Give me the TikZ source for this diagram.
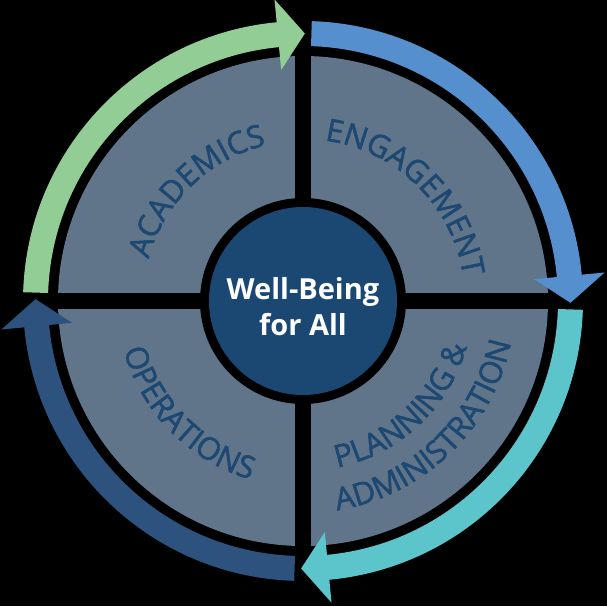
\documentclass[tikz,border=0pt]{standalone}
\usepackage{fontspec}
\setmainfont{Open Sans}
\newfontfamily\labelfont[FakeBold=1.6]{Open Sans}
\usetikzlibrary{decorations.text}
\definecolor{quadgray}{RGB}{96,116,138}
\definecolor{hubblue}{RGB}{27,72,115}
\definecolor{arrgreen}{RGB}{145,205,148}
\definecolor{arrblue}{RGB}{85,143,206}
\definecolor{arrteal}{RGB}{92,196,203}
\definecolor{arrdark}{RGB}{44,82,125}
\definecolor{labelblue}{RGB}{28,72,114}
\tikzset{
  curvedlabel/.style={decorate, decoration={text along path, text align=center, text color=labelblue, text={|\labelfont\fontsize{31}{31}\selectfont|#1}}}
}
\begin{document}
\begin{tikzpicture}[x=1pt,y=1pt]
\useasboundingbox (-303,-305) rectangle (304,301);
\fill[black] (-303,-305) rectangle (304,301);
% gray quadrants
\fill[quadgray] (0,0) circle[radius=245pt];
\fill[black] (-8pt,-250pt) rectangle (8pt,250pt);
\fill[black] (-250pt,-8pt) rectangle (250pt,8pt);
% hub
\fill[black] (0,0) circle[radius=103pt];
\fill[hubblue] (0,0) circle[radius=94pt];
% ring arrows
\fill[arrgreen] (178.2:255pt) arc[start angle=178.2, end angle=95.4, radius=255pt] -- (95.4:232pt) -- (89.6:267.5pt) -- (95.4:303pt) -- (95.4:280pt) arc[start angle=95.4, end angle=178.2, radius=280pt] -- cycle;
\fill[arrblue] (88.2:255pt) arc[start angle=88.2, end angle=5.4, radius=255pt] -- (5.4:232pt) -- (-0.4:267.5pt) -- (5.4:303pt) -- (5.4:280pt) arc[start angle=5.4, end angle=88.2, radius=280pt] -- cycle;
\fill[arrteal] (-1.8:255pt) arc[start angle=-1.8, end angle=-84.6, radius=255pt] -- (-84.6:232pt) -- (-90.4:267.5pt) -- (-84.6:303pt) -- (-84.6:280pt) arc[start angle=-84.6, end angle=-1.8, radius=280pt] -- cycle;
\fill[arrdark] (-91.8:255pt) arc[start angle=-91.8, end angle=-174.6, radius=255pt] -- (-174.6:232pt) -- (-180.4:267.5pt) -- (-174.6:303pt) -- (-174.6:280pt) arc[start angle=-174.6, end angle=-91.8, radius=280pt] -- cycle;
% curved labels
\path[curvedlabel={ACADEMICS}] (179:160pt) arc[start angle=179, end angle=89, radius=160pt];
\path[curvedlabel={ENGAGEMENT}] (90.5:162pt) arc[start angle=90.5, end angle=0.5, radius=162pt];
\path[curvedlabel={OPERATIONS}] (179.5:186pt) arc[start angle=179.5, end angle=269.5, radius=186pt];
\path[curvedlabel={PLANNING {\&}}] (268:170pt) arc[start angle=268, end angle=358, radius=170pt];
\path[curvedlabel={ADMINISTRATION}] (269:212pt) arc[start angle=269, end angle=359, radius=212pt];
% centre text
\node[text=white, align=center, font={\fontsize{29}{36}\selectfont\bfseries}] (hub) at (0,-6) {Well-Being\\for All};
\end{tikzpicture}
\end{document}
